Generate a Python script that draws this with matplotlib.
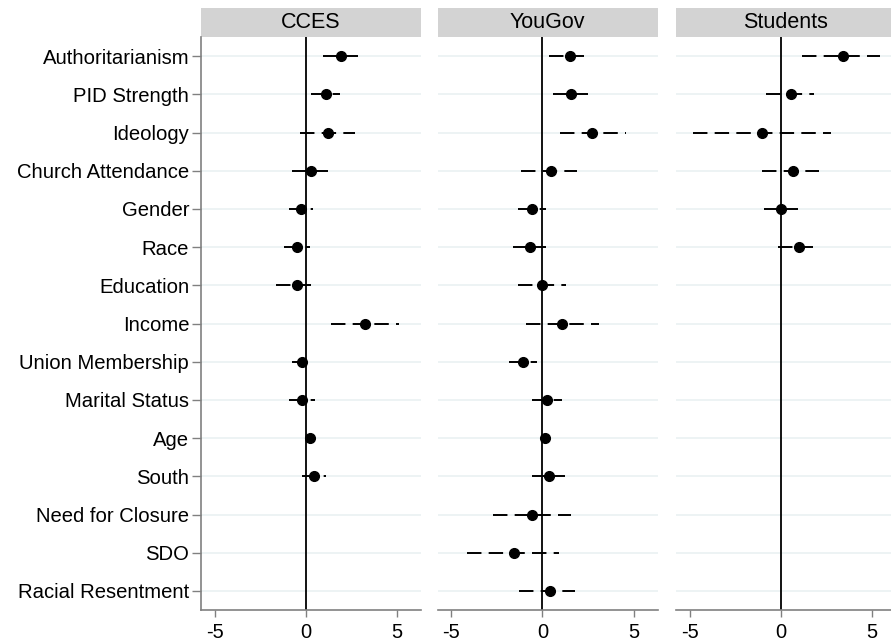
import numpy as np
import matplotlib.pyplot as plt
from matplotlib.patches import Rectangle

plt.rcParams['font.family'] = ['Liberation Sans', 'DejaVu Sans']
plt.rcParams['lines.scale_dashes'] = False

variables = ["Authoritarianism", "PID Strength", "Ideology", "Church Attendance",
             "Gender", "Race", "Education", "Income", "Union Membership",
             "Marital Status", "Age", "South", "Need for Closure", "SDO",
             "Racial Resentment"]

nan = np.nan

cces_est = [1.92, 1.08, 1.21, 0.26, -0.25, -0.47, -0.47, 3.24, -0.20, -0.20, 0.24, 0.46, nan, nan, nan]
cces_lo = [0.95, 0.26, -0.33, -0.75, -0.91, -1.22, -1.66, 1.35, -0.78, -0.91, 0.10, -0.20, nan, nan, nan]
cces_hi = [2.83, 1.88, 2.71, 1.19, 0.37, 0.24, 0.30, 5.10, 0.40, 0.49, 0.38, 1.10, nan, nan, nan]

yougov_est = [1.51, 1.56, 2.73, 0.49, -0.55, -0.71, 0.00, 1.09, -1.04, 0.25, 0.14, 0.33, -0.55, -1.58, 0.42]
yougov_lo = [0.34, 0.60, 0.95, -1.17, -1.33, -1.64, -1.33, -0.91, -1.82, -0.55, 0.02, -0.55, -2.70, -4.12, -1.30]
yougov_hi = [2.28, 2.51, 4.59, 1.87, 0.22, 0.22, 1.31, 3.11, -0.31, 1.07, 0.26, 1.22, 1.56, 0.91, 1.77]

students_est = [3.37, 0.53, -1.04, 0.67, 0.02, 0.98] + [nan] * 9
students_lo = [1.16, -0.82, -4.81, -1.06, -0.95, -0.19] + [nan] * 9
students_hi = [5.43, 1.80, 2.75, 2.07, 0.93, 1.75] + [nan] * 9

panels = [("CCES", cces_est, cces_lo, cces_hi),
          ("YouGov", yougov_est, yougov_lo, yougov_hi),
          ("Students", students_est, students_lo, students_hi)]

W, H = 891, 641
fig = plt.figure(figsize=(W / 100, H / 100), dpi=100)

lefts = [201, 437.5, 676]
pw = 220
top, bottom = 37, 610
grid_col = '#ecf2f3'
axis_col = '#808080'
ypos = np.arange(len(variables))

for i, (name, est, lo, hi) in enumerate(panels):
    ax = fig.add_axes([lefts[i] / W, 1 - bottom / H, pw / W, (bottom - top) / H])
    for y in ypos:
        ax.axhline(y, color=grid_col, lw=1.3, zorder=0)
    ax.axvline(0, color='black', lw=1.3, zorder=1)
    for y, e, l, h in zip(ypos, est, lo, hi):
        if np.isnan(e):
            continue
        ax.plot([l, h], [y, y], color='black', lw=1.4, dashes=(10.4, 5.2),
                solid_capstyle='butt', dash_capstyle='butt', zorder=2)
        ax.plot(e, y, 'o', color='black', ms=7, zorder=3)
    ax.set_xlim(-5.75, 6.3)
    ax.set_ylim(len(variables) - 0.5, -0.5)
    ax.set_xticks([-5, 0, 5])
    ax.set_xticklabels(['-5', '0', '5'])
    ax.tick_params(axis='x', length=5, width=1, color=axis_col, pad=4.5, labelsize=14.5)
    for s in ['top', 'right']:
        ax.spines[s].set_visible(False)
    ax.spines['bottom'].set_color(axis_col)
    ax.spines['bottom'].set_linewidth(1.2)
    if i == 0:
        ax.set_yticks(ypos)
        ax.set_yticklabels(variables)
        ax.tick_params(axis='y', length=6.5, width=1, color=axis_col, pad=2, labelsize=14.6)
        ax.spines['left'].set_color(axis_col)
        ax.spines['left'].set_linewidth(1.2)
    else:
        ax.set_yticks([])
        ax.spines['left'].set_visible(False)
    sh = 28.7 / (bottom - top)
    ax.add_patch(Rectangle((0, 1.0), 1, sh, transform=ax.transAxes,
                           facecolor='#d3d3d3', edgecolor='none', clip_on=False))
    ax.text(0.5, 1 + sh / 2, name, transform=ax.transAxes, ha='center', va='center',
            fontsize=15.5)

fig.savefig("out.png", dpi=100)
